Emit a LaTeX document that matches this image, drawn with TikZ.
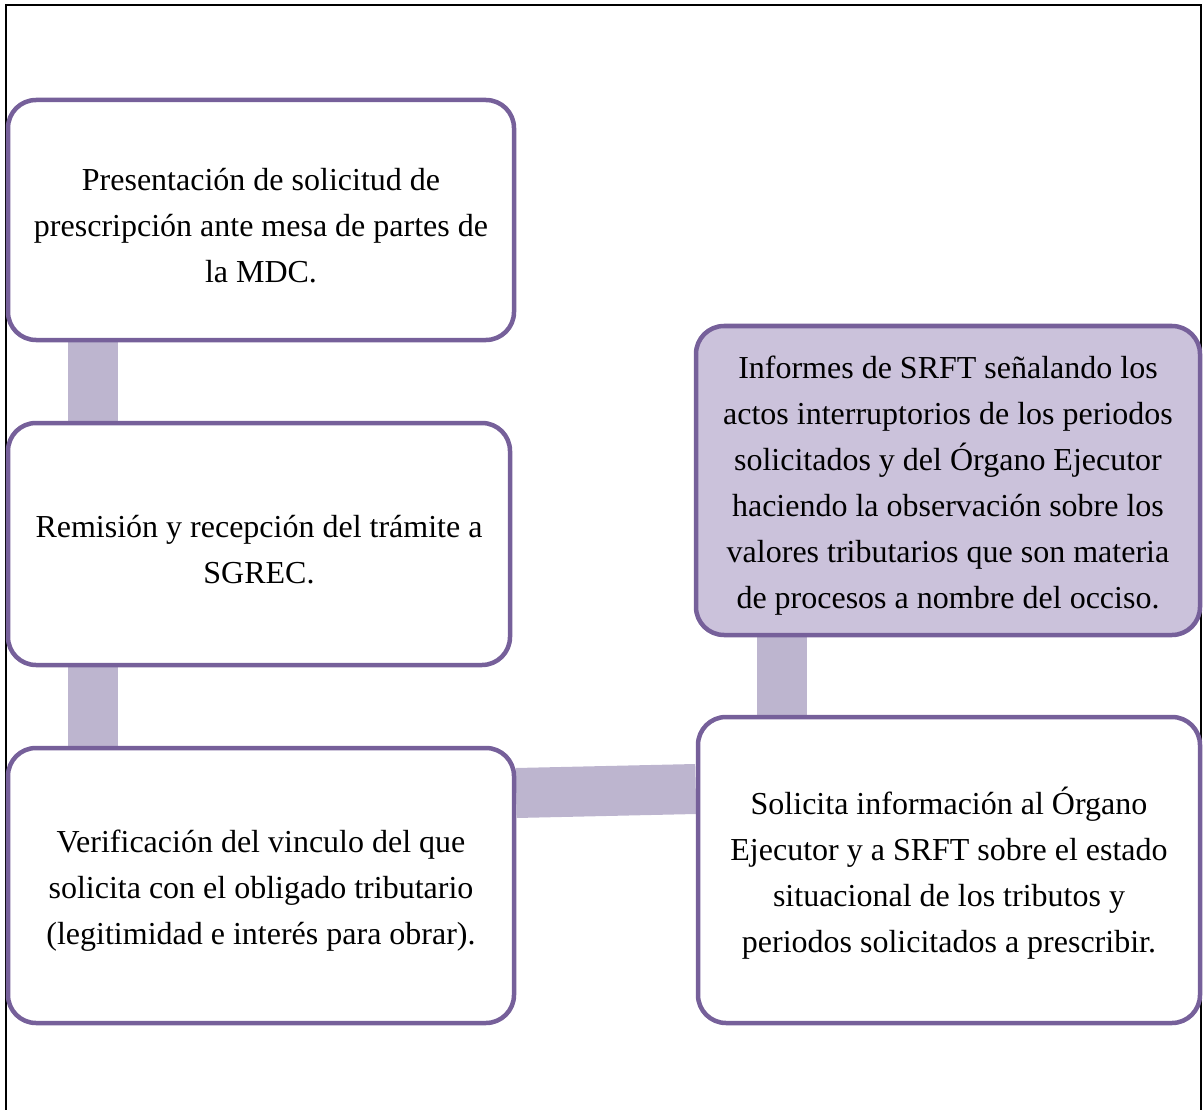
\documentclass[tikz,border=0pt]{standalone}
\usepackage{fontspec}
\setmainfont{Liberation Serif}
\usetikzlibrary{calc,backgrounds}
\definecolor{boxline}{HTML}{76609A}
\definecolor{boxfill}{HTML}{CBC2DB}
\definecolor{connfill}{HTML}{BDB5CF}
\newcommand\mystrut{\rule{0pt}{33pt}}
\tikzset{
  stepbox/.style={draw=boxline, line width=4.5pt, rounded corners=28pt, fill=white,
    align=center, inner sep=0pt, font=\fontsize{32}{46}\selectfont},
  conn/.style={draw=connfill, line width=50pt, line cap=butt}
}
\begin{document}
\begin{tikzpicture}[x=1pt,y=-1pt]
\clip (0,0) rectangle (1203,1110);
\draw[line width=2pt, black] (6,5) rectangle (1200.5,1130);
\node[stepbox, minimum width=506pt, minimum height=240pt] (a) at (261,220)
  {\mystrut Presentación de solicitud de\\prescripción ante mesa de partes de\\la MDC.};
\node[stepbox, minimum width=502pt, minimum height=242pt] (b) at (259,544)
  {\mystrut Remisión y recepción del trámite a\\SGREC.};
\node[stepbox, minimum width=506pt, minimum height=275pt] (c) at (261,885.5)
  {\mystrut Verificación del vinculo del que\\solicita con el obligado tributario\\(legitimidad e interés para obrar).};
\node[stepbox, minimum width=502pt, minimum height=306pt] (d) at (949,870)
  {\mystrut Solicita información al Órgano\\Ejecutor y a SRFT sobre el estado\\situacional de los tributos y\\periodos solicitados a prescribir.};
\node[stepbox, fill=boxfill, minimum width=504pt, minimum height=309pt] (e) at (948,480.5)
  {\mystrut Informes de SRFT señalando los\\actos interruptorios de los periodos\\solicitados y del Órgano Ejecutor\\haciendo la observación sobre los\\valores tributarios que son materia\\de procesos a nombre del occiso.};
\begin{scope}[on background layer]
\draw[conn] ($(a.south west)+(87.5,0)$) -- ($(b.north west)+(87.5,0)$);
\draw[conn] ($(b.south west)+(87.5,0)$) -- ($(c.north west)+(87.5,0)$);
\draw[conn] ($(c.east)+(0,-92.5)$) -- ($(d.west)+(0,-81)$);
\coordinate (dtop) at ($(d.north west)+(86.5,0)$);
\draw[conn] (dtop) -- (dtop |- e.south);
\end{scope}
\end{tikzpicture}
\end{document}
